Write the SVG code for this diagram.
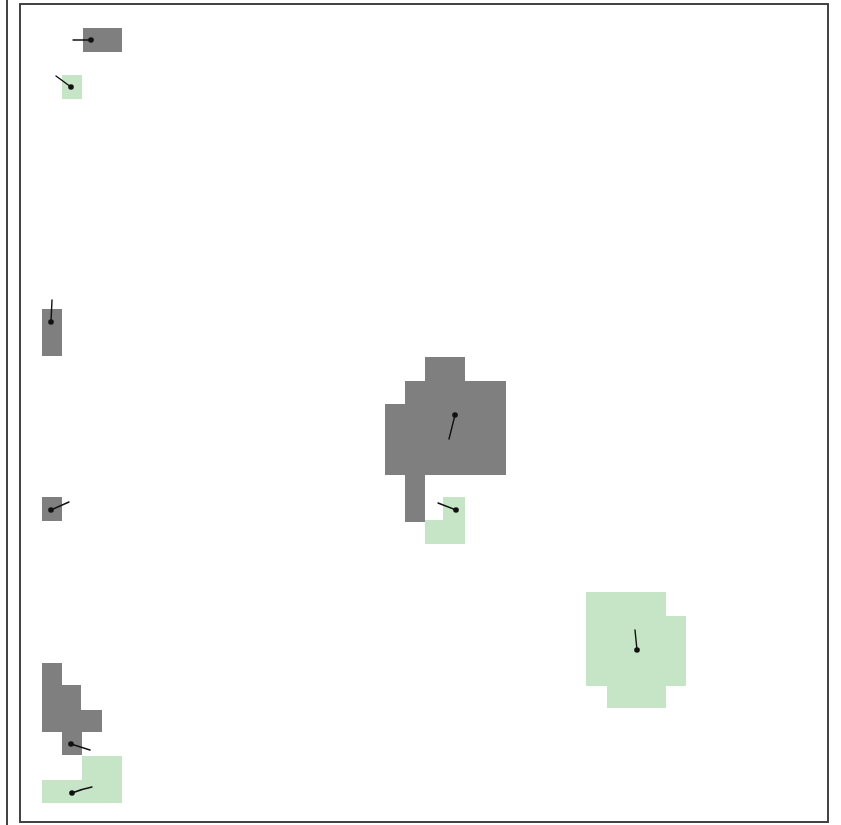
<svg xmlns="http://www.w3.org/2000/svg" width="841" height="825" viewBox="0 0 841 825">
<style>
.g{fill:#7f7f7f}
.l{fill:#c6e4c6}
.v{stroke:#111;stroke-width:1.4;fill:none;stroke-linecap:round}
.d{fill:#111}
.f{fill:none;stroke:#444;stroke-width:2}
</style>
<rect width="841" height="825" fill="#fff"/>
<line x1="7" y1="0" x2="7" y2="825" class="f"/>
<rect x="20" y="4" width="808" height="818" class="f"/>
<g id="grey1"><rect x="83" y="28" width="39" height="24" class="g"/></g>
<g id="green1"><rect x="62" y="75" width="20" height="24" class="l"/></g>
<g id="grey2"><rect x="42" y="309" width="20" height="47" class="g"/></g>
<g id="grey3"><rect x="42" y="497" width="20" height="24" class="g"/></g>
<g id="grey4"><path d="M42 663H62V685H81V710H102V732H82V755H62V732H42Z" class="g"/></g>
<g id="green4"><path d="M82 756H122V803H42V780H82Z" class="l"/></g>
<g id="grey5"><path d="M425 357H465V381H506V475H425V522H405V475H385V404H405V381H425Z" class="g"/></g>
<g id="green5"><path d="M443 497H465V544H425V520H443Z" class="l"/></g>
<g id="green6"><path d="M586 592H666V616H686V686H666V708H607V686H586Z" class="l"/></g>
<g id="vectors">
<line x1="73" y1="40" x2="91" y2="40" class="v"/><circle cx="91" cy="40" r="2.8" class="d"/>
<line x1="56" y1="76" x2="71" y2="87" class="v"/><circle cx="71" cy="87" r="2.8" class="d"/>
<line x1="52" y1="300" x2="51" y2="322" class="v"/><circle cx="51" cy="322" r="2.8" class="d"/>
<line x1="51" y1="510" x2="69" y2="502" class="v"/><circle cx="51" cy="510" r="2.8" class="d"/>
<line x1="71" y1="744" x2="90" y2="750" class="v"/><circle cx="71" cy="744" r="2.8" class="d"/>
<path d="M72 793Q82 789 92 787" class="v"/><circle cx="72" cy="793" r="2.8" class="d"/>
<line x1="455" y1="415" x2="449" y2="439" class="v"/><circle cx="455" cy="415" r="2.8" class="d"/>
<line x1="438" y1="503" x2="456" y2="510" class="v"/><circle cx="456" cy="510" r="2.8" class="d"/>
<line x1="635" y1="630" x2="637" y2="650" class="v"/><circle cx="637" cy="650" r="2.8" class="d"/>
</g>
</svg>
